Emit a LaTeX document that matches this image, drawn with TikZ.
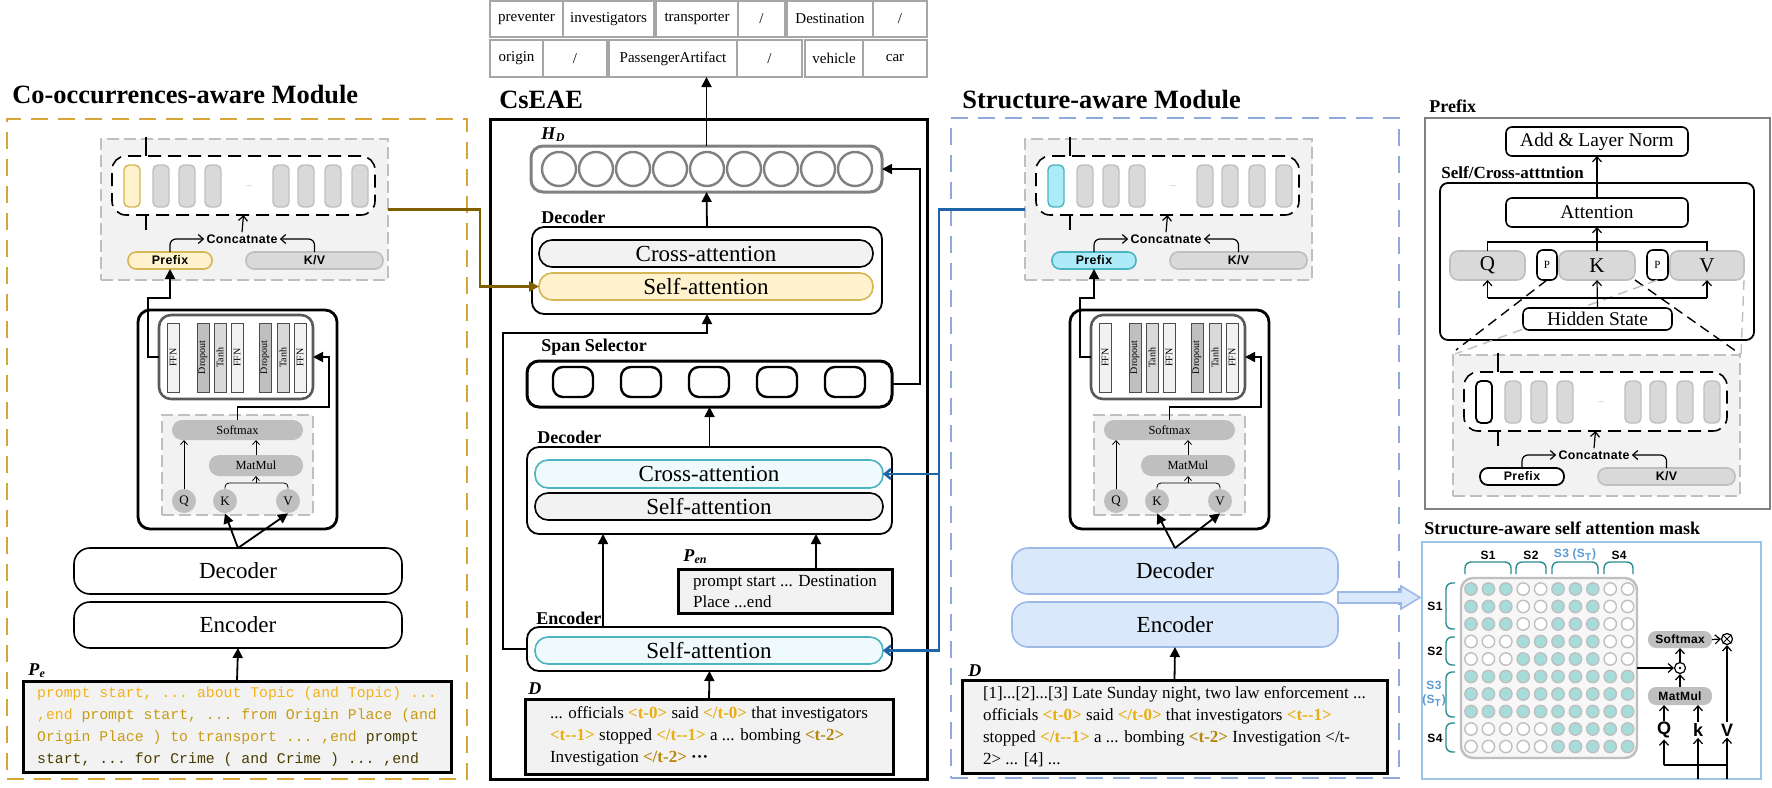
\documentclass[tikz,border=0pt]{standalone}
\usepackage{fontspec}
\setmainfont{Liberation Serif}
\setmonofont{Liberation Mono}
\newfontfamily\uisans[LetterSpace=3.0]{Liberation Sans}
\usepackage{xcolor}
\usetikzlibrary{arrows.meta}
\usetikzlibrary{positioning}

\definecolor{goldline}{HTML}{D6A735}
\definecolor{goldfill}{HTML}{FFF2CC}
\definecolor{goldedge}{HTML}{D6B656}
\definecolor{goldlink}{HTML}{7F6000}
\definecolor{bluedash}{HTML}{8EAADB}
\definecolor{bluelink}{HTML}{1F64A6}
\definecolor{cyanfill}{HTML}{AEEBF8}
\definecolor{cyanedge}{HTML}{4BB3C1}
\definecolor{cyanlight}{HTML}{EEFAFC}
\definecolor{skyfill}{HTML}{DAE8FC}
\definecolor{skyedge}{HTML}{9DB9E6}
\definecolor{grayA}{HTML}{F2F2F2}
\definecolor{grayB}{HTML}{D9D9D9}
\definecolor{grayC}{HTML}{BFBFBF}
\definecolor{grayD}{HTML}{A6A6A6}
\definecolor{tealdot}{HTML}{A6DCDA}
\definecolor{tealline}{HTML}{2A8C8C}
\definecolor{maskblue}{HTML}{9DC3E6}
\definecolor{stblue}{HTML}{5B9BD5}
\definecolor{tagc}{HTML}{E8AE12}
\definecolor{tagd}{HTML}{B8860B}
\definecolor{peA}{HTML}{F2B21C}
\definecolor{peB}{HTML}{C99A12}
\definecolor{peC}{HTML}{4A3C00}

\tikzset{
  bx/.style={inner sep=1pt,outer sep=0pt},
  lbl/.style={anchor=west,inner sep=0pt,font=\fontsize{9}{10}\selectfont\bfseries},
  ttl/.style={anchor=west,inner sep=0pt,font=\fontsize{13.2}{15}\selectfont\bfseries},
  cell/.style={bx,draw=grayD,line width=0.6pt,font=\fontsize{7.5}{8}\selectfont},
  panelbox/.style={bx,draw=grayC,fill=grayA,dash pattern=on 6pt off 2.5pt,line width=1.1pt},
  seqbox/.style={bx,draw=black,fill=white,rounded corners=7pt,dash pattern=on 6.5pt off 3.5pt,line width=0.8pt},
  cellbox/.style={bx,draw=grayC,fill=grayB,rounded corners=2.5pt,line width=0.7pt},
  pill/.style={bx,rounded corners=4pt,line width=0.8pt,font=\uisans\bfseries\fontsize{6.2}{7}\selectfont},
  catfont/.style={inner sep=1pt,font=\uisans\bfseries\fontsize{6.2}{7}\selectfont},
  outerbox/.style={bx,draw=black,rounded corners=6pt,line width=1.4pt},
  ffnbox/.style={bx,draw=black!65,rounded corners=6pt,line width=1.3pt},
  bar/.style={bx,inner sep=0pt,draw=black!70,line width=0.5pt,font=\fontsize{5}{6}\selectfont},
  opill/.style={bx,fill=grayC,rounded corners=5pt,font=\fontsize{6.2}{7}\selectfont},
  qkv/.style={circle,fill=grayC,inner sep=0pt,minimum size=12pt,font=\fontsize{6.5}{7}\selectfont},
  bigbox/.style={bx,draw=black,fill=white,rounded corners=8pt,line width=0.8pt,font=\fontsize{11.5}{13}\selectfont},
  txtbox/.style={bx,draw=black,fill=grayA,line width=1.5pt},
  decbox/.style={bx,draw=black,rounded corners=6pt,line width=0.9pt},
  apill/.style={bx,rounded corners=6.5pt,line width=0.8pt,font=\fontsize{11.5}{13}\selectfont},
  hcirc/.style={circle,draw=black!50,line width=1.2pt,inner sep=0pt,minimum size=17pt},
  slot/.style={bx,draw=black,rounded corners=5pt,line width=1.2pt},
  sbox/.style={bx,draw=black,fill=white,rounded corners=3pt,line width=0.8pt,font=\fontsize{9.7}{11}\selectfont},
  kbox/.style={bx,draw=grayC,fill=grayB,rounded corners=4pt,line width=0.8pt,font=\fontsize{10.5}{12}\selectfont},
  dot/.style={circle,draw=grayC,line width=0.7pt,minimum size=6.2pt,inner sep=0pt},
  slbl/.style={inner sep=0pt,align=center,font=\uisans\bfseries\fontsize{6}{7}\selectfont},
  opbox/.style={bx,fill=grayC,rounded corners=4pt,font=\uisans\bfseries\fontsize{6}{7}\selectfont},
  qlbl/.style={inner sep=0.5pt,font=\uisans\bfseries\fontsize{9}{10}\selectfont},
  tri/.style={line width=0.9pt,-{Triangle[length=5pt,width=5pt]}},
  opn/.style={line width=0.6pt,-{Straight Barb[length=2.5pt,width=4.5pt]}},
  thinarr/.style={line width=0.4pt,-{Straight Barb[length=2pt,width=3.5pt]}},
  zoomline/.style={line width=0.7pt,dash pattern=on 5pt off 3pt}
}

\newcommand{\blk}[6]{\node[#6,minimum width={((#4)-(#2))*0.5pt},minimum height={((#5)-(#3))*0.5pt}] (#1) at ({((#2)+(#4))/2},{((#3)+(#5))/2})}
\newcommand{\tagA}[1]{\textcolor{tagc}{\textbf{#1}}}
\newcommand{\tagB}[1]{\textcolor{tagd}{\textbf{#1}}}

\newcommand{\prefixpanel}[4]{%
  \begin{scope}[shift={#2}]
    \blk{#1}{101}{139}{388}{280}{panelbox}{};
    \draw[line width=0.8pt] (146,137) -- (146,230);
    \blk{#1seq}{112}{156}{375}{215}{seqbox}{};
    \blk{#1c0}{124}{165}{140}{207}{cellbox,#3}{};
    \foreach \cx [count=\idx] in {153,179,205,273,298,325,352} {\blk{#1c\idx}{\cx}{165}{\cx+16}{207}{cellbox}{};}
    \node[text=black!40,inner sep=0pt,font=\fontsize{4}{4}\selectfont] (#1dots) at (249,186) {...};
    \node[catfont] (#1cat) at (242,239) {Concatnate};
    \draw[opn] (#1cat.north) -- (#1seq.south);
    \blk{#1pre}{128}{252}{212}{269}{pill,#4}{Prefix};
    \blk{#1kv}{246}{252}{383}{269}{pill,fill=grayB,draw=grayC}{K/V};
    \draw[opn,rounded corners=3pt] (#1pre.north) |- (#1cat.west);
    \draw[opn,rounded corners=3pt] (#1kv.north) |- (#1cat.east);
  \end{scope}}

\newcommand{\ffnblock}[2]{%
  \begin{scope}[shift={#2}]
    \blk{#1}{138}{310}{337}{529}{outerbox}{};
    \blk{#1ffn}{159}{315}{313}{399}{ffnbox}{};
    \foreach \bx/\bc/\bt in {167/grayA/FFN,197/grayC/Dropout,214/grayB/Tanh,231/grayA/FFN,259/grayC/Dropout,277/grayB/Tanh,294/grayA/FFN} {\blk{#1b\bx}{\bx}{323}{\bx+12}{392}{bar,fill=\bc}{\rotatebox{90}{\bt}};}
    \blk{#1att}{162}{415}{313}{515}{panelbox}{};
    \blk{#1sm}{172}{420}{303}{440}{opill}{Softmax};
    \blk{#1mm}{209}{455}{303}{476}{opill}{MatMul};
    \node[qkv] (#1q) at (184,501) {Q};
    \node[qkv] (#1k) at (225,501) {K};
    \node[qkv] (#1v) at (288,501) {V};
    \draw[thinarr] (#1q.north) -- (#1q.north |- #1sm.south);
    \draw[thinarr] (#1mm.north) -- (#1mm.north |- #1sm.south);
    \draw[line width=0.4pt,rounded corners=2pt] (#1k.north) |- (256,483) -| (#1v.north);
    \draw[thinarr] (256,483) -- (#1mm.south);
    \draw[tri] (#1sm.north) |- (329,407) |- (#1ffn.east);
  \end{scope}}

\begin{document}
\begin{tikzpicture}[x=0.5pt,y=-0.5pt]
  \useasboundingbox (0,0) rectangle (1772,787);

  \blk{cPrev}{490}{1}{563}{37}{cell}{preventer};
  \blk{cInv}{563}{1}{654}{37}{cell}{investigators};
  \blk{cTrans}{656}{1}{738}{37}{cell}{transporter};
  \blk{cSlA}{738}{1}{785}{37}{cell}{/};
  \blk{cDest}{787}{1}{873}{37}{cell}{Destination};
  \blk{cSlB}{873}{1}{927}{37}{cell}{/};
  \blk{cOri}{490}{40}{543}{77}{cell}{origin};
  \blk{cSlC}{543}{40}{607}{77}{cell}{/};
  \blk{cPass}{609}{40}{737}{77}{cell}{PassengerArtifact};
  \blk{cSlD}{737}{40}{802}{77}{cell}{/};
  \blk{cVeh}{805}{40}{863}{77}{cell}{vehicle};
  \blk{cCar}{863}{40}{927}{77}{cell}{car};

  \node[ttl] (cotitle) at (12,95) {Co-occurrences-aware Module};
  \blk{comod}{7}{119}{467}{779}{bx,draw=goldline,dash pattern=on 8.5pt off 5pt,line width=1.2pt}{};
  \prefixpanel{lp}{(0,0)}{fill=goldfill,draw=goldedge}{fill=goldfill,draw=goldedge}
  \ffnblock{lf}{(0,0)}
  \draw[tri] (lfffn.west) -- (148,357) |- (170,298) -- (lppre.south);
  \blk{ldec}{74}{548}{402}{594}{bigbox}{Decoder};
  \blk{lenc}{74}{602}{402}{648}{bigbox}{Encoder};
  \draw[tri] (ldec.north) -- (lfk.south);
  \draw[tri] (ldec.north) -- (lfv.south);
  \node[lbl] (pelbl) at (28,671) {\textit{P}\textsubscript{\textit{e}}};
  \blk{pe}{23}{681}{451}{772}{txtbox,align=left,font=\ttfamily\fontsize{7.4}{11}\selectfont}{\textcolor{peA}{prompt start, ... about Topic (and Topic) ...}\\
    \textcolor{peA}{,end} \textcolor{peB}{prompt start, ... from Origin Place (and}\\
    \textcolor{peB}{Origin Place ) to transport ... ,end} \textcolor{peC}{prompt}\\
    \textcolor{peC}{start, ... for Crime ( and Crime ) ... ,end}};
  \draw[tri] (pe.north) -- (lenc.south);

  \node[ttl] (cstitle) at (499,100) {CsEAE};
  \blk{cs}{490}{119}{927}{779}{bx,draw=black,line width=1.5pt}{};
  \node[lbl] (hdlbl) at (541,135) {\textit{H}\textsubscript{\textit{D}}};
  \blk{hd}{531}{146}{882}{192}{bx,draw=black!50,rounded corners=6pt,line width=1.5pt}{};
  \foreach \idx in {0,...,8} {\node[hcirc] (h\idx) at ({559+37*\idx},169) {};}
  \draw[tri] (hd.north) -- (hd.north |- cPass.south);
  \node[lbl] (tdlbl) at (541,217) {Decoder};
  \blk{tdec}{532}{227}{882}{314}{decbox}{};
  \blk{tca}{539}{240}{873}{267}{apill,fill=grayA,draw=black}{Cross-attention};
  \blk{tsa}{539}{273}{873}{300}{apill,fill=goldfill,draw=goldedge}{Self-attention};
  \draw[tri] (tdec.north) -- (hd.south);
  \draw[goldlink,line width=1.3pt,-{Triangle[length=5pt,width=5pt]}] (lp.east) -- (480,209.5) |- (tsa.west);
  \node[lbl] (sslbl) at (541,347) {Span Selector};
  \blk{span}{527}{361}{892}{407}{bx,draw=black,rounded corners=6pt,line width=1.5pt}{};
  \foreach \idx in {0,...,4} {\blk{s\idx}{553+68*\idx}{367}{593+68*\idx}{397}{slot}{};}
  \draw[tri] (span.east) -- (920,384) |- (hd.east);
  \node[lbl] (mdlbl) at (537,437) {Decoder};
  \blk{mdec}{527}{447}{892}{534}{decbox}{};
  \blk{mca}{535}{460}{883}{488}{apill,fill=cyanlight,draw=cyanedge}{Cross-attention};
  \blk{msa}{535}{493}{883}{520}{apill,fill=grayA,draw=black}{Self-attention};
  \draw[tri] (mdec.north) -- (span.south);
  \node[lbl] (penlbl) at (683,557) {\textit{P}\textsubscript{\textit{en}}};
  \blk{pen}{678}{569}{892}{613}{txtbox,align=left,font=\fontsize{8.5}{10.5}\selectfont}{prompt start ... Destination\\Place ...end};
  \draw[tri] ([xshift=15.5pt]pen.north) -- ([xshift=15.5pt]pen.north |- mdec.south);
  \node[lbl] (enlbl) at (536,618) {Encoder};
  \blk{enc}{527}{627}{892}{671}{decbox}{};
  \blk{esa}{535}{637}{883}{664}{apill,fill=cyanlight,draw=cyanedge}{Self-attention};
  \draw[tri] (enc.north -| 603,0) -- (mdec.south -| 603,0);
  \draw[tri] (enc.west) -| (503,333) -| (tdec.south);
  \node[lbl] (dlbl) at (528,689) {\textit{D}};
  \blk{dc}{525}{699}{893}{774}{txtbox,align=left,font=\fontsize{8.5}{11}\selectfont}{... officials \tagA{<t-0>} said \tagA{</t-0>} that investigators\\
    \tagA{<t-{}-1>} stopped \tagA{</t-{}-1>} a ... bombing \tagB{<t-2>}\\
    Investigation \tagB{</t-2>} \textbf{···}};
  \draw[tri] (dc.north) -- (enc.south);

  \node[ttl] (sttitle) at (962,100) {Structure-aware Module};
  \blk{stmod}{951}{118}{1399}{778}{bx,draw=bluedash,dash pattern=on 8.5pt off 5pt,line width=1.2pt}{};
  \prefixpanel{rp}{(924,0)}{fill=cyanfill,draw=cyanedge}{fill=cyanfill,draw=cyanedge}
  \ffnblock{rf}{(932,0)}
  \draw[tri] (rfffn.west) -- (1080,357) |- (1094,298) -- (rppre.south);
  \draw[bluelink,line width=1.3pt,-{Straight Barb[length=3pt,width=5pt]}] (rp.west) -- (939,209.5) |- (esa.east);
  \draw[bluelink,line width=1.3pt,-{Straight Barb[length=3pt,width=5pt]}] (939,474) -- (mca.east);
  \blk{rdec}{1012}{548}{1338}{594}{bigbox,fill=skyfill,draw=skyedge}{Decoder};
  \blk{renc}{1012}{602}{1338}{647}{bigbox,fill=skyfill,draw=skyedge}{Encoder};
  \draw[tri] (rdec.north) -- (rfk.south);
  \draw[tri] (rdec.north) -- (rfv.south);
  \node[lbl] (rdlbl) at (968,671) {\textit{D}};
  \blk{rd}{962}{680}{1387}{773}{txtbox,align=left,font=\fontsize{8.5}{11}\selectfont}{[1]...[2]...[3] Late Sunday night, two law enforcement ...\\
    officials \tagA{<t-0>} said \tagA{</t-0>} that investigators \tagA{<t-{}-1>}\\
    stopped \tagA{</t-{}-1>} a ... bombing \tagB{<t-2>} Investigation </t-\\
    2> ... [4] ...};
  \draw[tri] (rd.north) -- (renc.south);
  \draw[fill=skyfill,draw=skyedge,line width=0.8pt] (1338,592) -- (1401,592) -- (1401,586) -- (1420,597.5) -- (1401,609) -- (1401,603) -- (1338,603) -- cycle;

  \node[lbl] (pflbl) at (1429,106) {Prefix};
  \blk{pf}{1425}{118}{1770}{509}{bx,draw=black!50,line width=1.2pt}{};
  \blk{addn}{1506}{127}{1688}{156}{sbox}{Add \& Layer Norm};
  \node[lbl,font=\fontsize{8.5}{10}\selectfont\bfseries] (scalbl) at (1441,173) {Self/Cross-atttntion};
  \blk{sca}{1440}{183}{1754}{340}{bx,draw=black,rounded corners=4pt,line width=0.9pt}{};
  \blk{attn}{1506}{198}{1688}{227}{sbox}{Attention};
  \blk{pq}{1450}{251}{1525}{280}{kbox}{Q};
  \blk{pk}{1559}{251}{1635}{280}{kbox}{K};
  \blk{pv}{1670}{251}{1744}{280}{kbox}{V};
  \blk{pp1}{1537}{250}{1557}{280}{sbox,font=\fontsize{5.5}{6}\selectfont}{P};
  \blk{pp2}{1647}{250}{1668}{280}{sbox,font=\fontsize{5.5}{6}\selectfont}{P};
  \draw[zoomline] (pp1.south) -- (1456,350);
  \draw[zoomline] (pk.south east) -- (1740,354);
  \draw[zoomline,grayC] (pp2.south) -- (1455,354);
  \draw[zoomline,grayC] (pv.south east) -- (1741,355);
  \blk{hid}{1523}{308}{1672}{330}{sbox}{Hidden State};
  \draw[line width=0.7pt] (pq.north) |- (1707,242) -- (pv.north);
  \draw[opn] (pk.north) -- (attn.south);
  \draw[opn] (attn.north) -- (addn.south);
  \draw[opn] (hid.north) -- (pk.south);
  \draw[line width=0.7pt] (1487.5,298) -- (1707,298);
  \draw[opn] (1487.5,298) -- (pq.south);
  \draw[opn] (1707,298) -- (pv.south);
  \prefixpanel{bp}{(1352,216)}{fill=white,draw=black,line width=0.9pt}{fill=white,draw=black,line width=0.9pt}

  \node[lbl] (mklbl) at (1424,528) {Structure-aware self attention mask};
  \blk{mbox}{1422}{542}{1761}{779}{bx,draw=maskblue,line width=1.2pt}{};
  \blk{grid}{1461}{578}{1637}{758}{bx,draw=grayC,fill=grayA!60,rounded corners=6pt,line width=1.2pt}{};
  \foreach \rw/\pat in {1/{1,1,1,0,0,1,1,1,0,0},2/{1,1,1,0,0,1,1,1,0,0},3/{1,1,1,0,0,1,1,1,0,0},
      4/{0,0,0,1,1,1,1,1,0,0},5/{0,0,0,1,1,1,1,1,0,0},
      6/{1,1,1,1,1,1,1,1,1,1},7/{1,1,1,1,1,1,1,1,1,1},8/{1,1,1,1,1,1,1,1,1,1},
      9/{0,0,0,0,0,1,1,1,1,1},10/{0,0,0,0,0,1,1,1,1,1}} {
    \foreach \val [count=\cl] in \pat {
      \ifnum\val=1 \def\dotc{tealdot}\else\def\dotc{white}\fi
      \node[dot,fill=\dotc] (d\rw-\cl) at ({1453.6+17.4*\cl},{571.5+17.5*\rw}) {};
    }
  }
  \foreach \xa/\xb in {1465/1511,1516/1546,1552/1598,1604/1633} {\draw[tealline,line width=0.7pt,rounded corners=3pt] (\xa,574) |- (\xb,562) -- (\xb,574);}
  \node[slbl] (cs1) at (1488,555) {S1};
  \node[slbl] (cs2) at (1531,555) {S2};
  \node[slbl,text=stblue] (cs3) at (1575,555) {S3 (S\textsubscript{T})};
  \node[slbl] (cs4) at (1619,555) {S4};
  \foreach \ya/\yb in {583/629,637/665,672/717,723/752} {\draw[tealline,line width=0.7pt,rounded corners=3pt] (1455,\ya) -| (1446,\yb) -- (1455,\yb);}
  \node[slbl] (rs1) at (1435,606) {S1};
  \node[slbl] (rs2) at (1435,651) {S2};
  \node[slbl,text=stblue] (rs3) at (1434,694) {S3\\(S\textsubscript{T})};
  \node[slbl] (rs4) at (1435,738) {S4};
  \blk{msm}{1648}{631}{1712}{648}{opbox}{Softmax};
  \blk{mmm}{1648}{687}{1712}{705}{opbox}{MatMul};
  \node[circle,draw,inner sep=0pt,minimum size=5.5pt,line width=0.6pt] (odot) at (1680,668) {};
  \fill (odot) circle (0.7pt);
  \node[circle,draw,inner sep=0pt,minimum size=5.5pt,line width=0.6pt] (otim) at (1727,639) {};
  \draw[line width=0.5pt] (otim.north east) -- (otim.south west) (otim.north west) -- (otim.south east);
  \node[qlbl] (mq) at (1664,730) {Q};
  \node[qlbl] (mkk) at (1698,730) {k};
  \node[qlbl] (mv) at (1727,730) {V};
  \draw[opn] (grid.east) -- (odot.west);
  \draw[opn] (mmm.north) -- (odot.south);
  \draw[opn] (odot.north) -- (msm.south);
  \draw[opn] (msm.east) -- (otim.west);
  \draw[opn] (mq.north) -- (mq.north |- mmm.south);
  \draw[opn] (mkk.north) -- (mkk.north |- mmm.south);
  \draw[opn] (mv.north) -- (otim.south);
  \draw[line width=0.6pt] (1664,765) -- (1727,765);
  \draw[opn] (1664,765) -- (mq.south);
  \draw[opn] (1698,779) -- (mkk.south);
  \draw[opn] (1727,779) -- (mv.south);
\end{tikzpicture}
\end{document}
